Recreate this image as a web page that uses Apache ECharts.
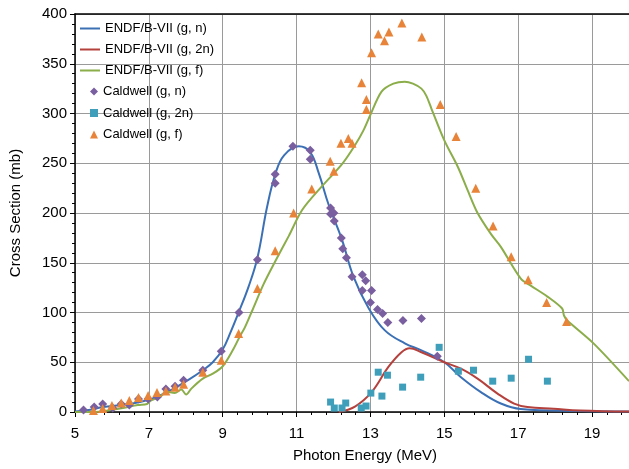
<!DOCTYPE html>
<html>
<head>
<meta charset="utf-8">
<script src="https://cdn.jsdelivr.net/npm/echarts@6/dist/echarts.min.js"></script>
<style>
  html, body { margin: 0; padding: 0; background: #fff; }
  #chart { width: 629px; height: 469px; }
</style>
</head>
<body>
<div id="chart"></div>
<script>
// data: [energy MeV, cross section mb]
var endfGn = [[5, 0.5], [5.37, 2], [5.77, 5], [6.22, 7], [6.76, 10], [7.2, 15], [7.65, 23], [8.06, 32], [8.46, 42], [8.73, 50], [9.0, 63], [9.21, 80], [9.43, 100], [9.7, 126], [9.94, 155], [10.2, 206], [10.43, 240], [10.66, 258], [11.06, 267], [11.37, 261], [11.6, 240], [11.87, 208], [12.23, 173], [12.54, 136], [12.94, 105], [13.39, 82], [13.93, 69], [14.38, 62], [15.0, 50], [15.45, 35], [15.99, 20], [16.53, 8.5], [17.07, 3], [18.68, 1], [20, 0.5]];
var endfG2n = [[12.14, 0], [12.58, 5.5], [13.03, 20], [13.48, 45], [13.84, 60], [14.06, 64], [14.38, 60], [15.0, 50], [15.45, 43.5], [15.9, 33.5], [16.44, 18.5], [16.89, 8.5], [17.25, 5], [17.96, 3.3], [18.68, 1.6], [20, 0.5]];
var endfGf = [[5, 0], [5.5, 0], [5.9, 1.5], [6.3, 4], [6.7, 7], [6.95, 8], [7.05, 11.5], [7.3, 15], [7.47, 20.5], [7.7, 19], [7.88, 22.5], [8.01, 17.5], [8.15, 23.5], [8.46, 33.5], [8.73, 38.5], [9.0, 46], [9.27, 62], [9.45, 75], [9.6, 85], [9.8, 102], [10.1, 128], [10.43, 152], [10.79, 177], [11.15, 203], [11.69, 227], [12.23, 249], [12.58, 268], [12.81, 283], [12.99, 298], [13.3, 322], [13.62, 330], [13.93, 332], [14.15, 330], [14.38, 325], [14.51, 318], [14.65, 305], [15.0, 273], [15.37, 246], [15.63, 223], [15.9, 200], [16.26, 179], [16.53, 166], [17.07, 134], [17.34, 127], [17.79, 116], [18.19, 104], [18.24, 97], [18.33, 92], [19.04, 69], [20, 31]];

var caldGn = [[5.23, 2], [5.52, 5], [5.75, 8], [6.02, 4], [6.25, 8], [6.47, 7], [6.72, 13], [6.98, 13], [7.23, 15], [7.46, 23], [7.71, 26], [7.94, 32], [8.46, 42], [8.96, 61], [9.44, 100], [9.94, 153], [10.42, 230], [10.42, 239], [10.9, 267], [11.37, 263], [11.37, 254], [11.92, 205], [12.01, 200], [11.92, 199], [12.02, 192], [12.21, 175], [12.25, 164], [12.35, 155], [12.5, 136], [12.78, 138], [12.87, 132], [12.78, 122], [13.03, 122], [13.0, 110], [13.19, 103], [13.33, 99], [13.47, 90], [13.88, 92], [14.38, 94], [14.81, 56]];
var caldG2n = [[11.92, 10], [12.02, 4], [12.23, 4], [12.33, 9], [12.75, 4], [12.88, 6], [13.01, 19], [13.21, 40], [13.31, 16], [13.46, 37], [13.87, 25], [14.36, 35], [14.86, 65], [15.38, 41], [15.79, 42], [16.31, 31], [16.81, 34], [17.28, 53], [17.79, 31]];
var caldGf = [[5.5, 1.5], [5.75, 3.5], [6.0, 6.5], [6.25, 9], [6.47, 11.5], [6.72, 14.5], [6.98, 16.5], [7.22, 19.5], [7.46, 21], [7.71, 25], [7.94, 28], [8.46, 40], [8.96, 52], [9.43, 79], [9.94, 124], [10.42, 162], [10.92, 200], [11.41, 224], [11.91, 252], [12.01, 242], [12.2, 270], [12.4, 275], [12.5, 270], [12.76, 331], [12.89, 314], [12.89, 304], [13.03, 361], [13.21, 380], [13.38, 373], [13.5, 382], [13.85, 391], [14.39, 377], [14.89, 309], [15.32, 277], [15.85, 225], [16.32, 187], [16.81, 156], [17.27, 133], [17.77, 110], [18.31, 91]];

var seriesNames = ['ENDF/B-VII (g, n)', 'ENDF/B-VII (g, 2n)', 'ENDF/B-VII (g, f)', 'Caldwell (g, n)', 'Caldwell (g, 2n)', 'Caldwell (g, f)'];

var myChart = echarts.init(document.getElementById('chart'));
var font = 'Liberation Sans, Arial, sans-serif';

function lineSeries(name, data, color, smooth) {
    return {
        name: name, type: 'line', data: data, symbol: 'none',
        smooth: smooth,
        lineStyle: { color: color, width: 2 },
        itemStyle: { color: color },
        z: 2
    };
}
function dotSeries(name, data, color, symbol, size) {
    return {
        name: name, type: 'scatter', data: data,
        symbol: symbol, symbolSize: size,
        itemStyle: { color: color, opacity: 1 },
        z: 3
    };
}

option = {
    animation: false,
    textStyle: { fontFamily: font },
    grid: { left: 71, right: 0, top: 14, bottom: 57 },
    legend: [{
        data: [
            { name: seriesNames[0], icon: 'rect' },
            { name: seriesNames[1], icon: 'rect' },
            { name: seriesNames[2], icon: 'rect' }
        ],
        orient: 'vertical', left: 75, top: 17,
        itemWidth: 20, itemHeight: 2, itemGap: 8,
        textStyle: { fontSize: 13, color: '#000', fontFamily: font }
    }, {
        data: [
            { name: seriesNames[3], icon: 'diamond' },
            { name: seriesNames[4], icon: 'rect' },
            { name: seriesNames[5], icon: 'triangle' }
        ],
        orient: 'vertical', left: 85, top: 80,
        itemWidth: 8, itemHeight: 8, itemGap: 8.5,
        textStyle: { fontSize: 13, color: '#000', fontFamily: font }
    }],
    xAxis: [{
        type: 'value', min: 5, max: 20, interval: 2,
        name: 'Photon Energy (MeV)', nameLocation: 'middle', nameGap: 36,
        nameTextStyle: { fontSize: 15, color: '#000', padding: [0, 0, 0, 26] },
        axisLine: { onZero: false, lineStyle: { color: '#000', width: 1.5 } },
        axisTick: { show: true, length: 5, lineStyle: { color: '#000' } },
        minorTick: { show: true, splitNumber: 5, length: 3, lineStyle: { color: '#000' } },
        axisLabel: { fontSize: 15, color: '#000', margin: 14, showMaxLabel: false },
        splitLine: { show: true, lineStyle: { color: '#9a9a9a', width: 1 } }
    }, {
        type: 'value', min: 5, max: 20, position: 'top',
        axisLine: { show: true, onZero: false, lineStyle: { color: '#000', width: 1.5 } },
        axisTick: { show: false }, axisLabel: { show: false }, splitLine: { show: false }
    }],
    yAxis: {
        type: 'value', min: 0, max: 400, interval: 50,
        name: 'Cross Section (mb)', nameLocation: 'middle', nameGap: 52,
        nameTextStyle: { fontSize: 15, color: '#000' },
        axisLine: { show: true, onZero: false, lineStyle: { color: '#000', width: 1.5 } },
        axisTick: { show: true, length: 5, lineStyle: { color: '#000' } },
        minorTick: { show: true, splitNumber: 5, length: 3, lineStyle: { color: '#000' } },
        axisLabel: { fontSize: 15, color: '#000', margin: 8 },
        splitLine: { show: true, lineStyle: { color: '#9a9a9a', width: 1 } }
    },
    series: [
        lineSeries(seriesNames[0], endfGn, '#3c70b5', 0.4),
        lineSeries(seriesNames[1], endfG2n, '#b5413d', 0.4),
        lineSeries(seriesNames[2], endfGf, '#8bad4a', 0.3),
        dotSeries(seriesNames[3], caldGn, '#7a5fa0', 'diamond', 9),
        dotSeries(seriesNames[4], caldG2n, '#3f9fbb', 'rect', 7),
        dotSeries(seriesNames[5], caldGf, '#e8843a', 'triangle', 9)
    ]
};
myChart.setOption(option);
</script>
</body>
</html>
